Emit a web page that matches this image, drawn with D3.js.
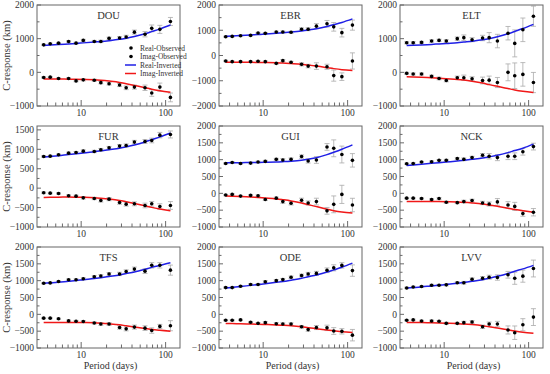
<!DOCTYPE html>
<html>
<head>
<meta charset="utf-8">
<script src="https://cdn.jsdelivr.net/npm/d3@7"></script>
<style>
  body { margin: 0; background: #fff; }
  text { font-family: "Liberation Serif", "DejaVu Serif", serif; fill: #333; }
</style>
</head>
<body>
<svg id="chart" width="550" height="374"></svg>
<script>
// periods (days), shared by every station
const periods = [3.6, 4.3, 5.4, 7.1, 8.7, 10.6, 14.3, 17.1, 21.4, 28.5, 34.1, 42.7, 57, 68.5, 85.5, 114];

const stations = ['DOU', 'EBR', 'ELT', 'FUR', 'GUI', 'NCK', 'TFS', 'ODE', 'LVV'];

const yDomains = {
    DOU: [-1000, 2000], EBR: [-2000, 2000], ELT: [-1000, 2000],
    FUR: [-1000, 1600], GUI: [-1000, 2000], NCK: [-1000, 2000],
    TFS: [-1000, 2000], ODE: [-1000, 2000], LVV: [-1000, 2000]
};
const yTicks = {
    DOU: [-1000, 0, 1000, 2000], EBR: [-2000, -1000, 0, 1000, 2000], ELT: [-1000, 0, 1000, 2000],
    FUR: [-1000, -500, 0, 500, 1000, 1500], GUI: [-1000, -500, 0, 500, 1000, 1500, 2000],
    NCK: [-1000, -500, 0, 500, 1000, 1500, 2000], TFS: [-1000, -500, 0, 500, 1000, 1500, 2000],
    ODE: [-1000, -500, 0, 500, 1000, 1500, 2000], LVV: [-1000, -500, 0, 500, 1000, 1500, 2000]
};

// observed real / imag parts (km)
const realObs = {
    DOU: [816, 847, 867, 918, 867, 949, 918, 918, 1010, 1020, 1051, 1194, 1133, 1306, 1276, 1510],
    EBR: [743, 757, 784, 797, 892, 878, 932, 932, 919, 1041, 1041, 1162, 1257, 1135, 905, 1203],
    ELT: [879, 879, 889, 929, 949, 929, 1000, 1030, 970, 1020, 1030, 929, 1162, 859, 1263, 1667],
    FUR: [815, 824, 858, 901, 918, 953, 944, 987, 1039, 1082, 1099, 1185, 1202, 1227, 1365, 1382],
    GUI: [888, 918, 888, 898, 929, 949, 1010, 990, 1010, 1092, 959, 990, 1378, 1337, 1153, 980],
    NCK: [878, 888, 929, 939, 980, 980, 1031, 1010, 1061, 1133, 1102, 1061, 1102, 1102, 1235, 1388],
    TFS: [923, 933, 974, 1026, 1026, 1056, 1118, 1138, 1200, 1200, 1272, 1344, 1282, 1456, 1456, 1313],
    ODE: [794, 794, 835, 887, 887, 969, 1000, 1031, 1103, 1155, 1196, 1216, 1309, 1381, 1454, 1299],
    LVV: [784, 814, 825, 866, 866, 876, 938, 938, 1041, 1072, 1103, 1093, 1175, 1072, 1134, 1361]
};
const imagObs = {
    DOU: [-153, -143, -184, -184, -255, -224, -235, -306, -337, -378, -459, -439, -459, -612, -439, -745],
    EBR: [-216, -243, -243, -243, -230, -243, -311, -203, -270, -351, -419, -419, -446, -797, -838, -216],
    ELT: [-30, -50, -50, -121, -182, -242, -162, -162, -192, -242, -232, -303, 0, -101, -61, -303],
    FUR: [-120, -129, -137, -197, -206, -249, -266, -318, -283, -369, -412, -403, -446, -403, -472, -446],
    GUI: [-51, -31, -82, -61, -71, -184, -143, -245, -296, -204, -286, -245, -520, -327, -31, -347],
    NCK: [-143, -143, -153, -184, -153, -265, -276, -245, -214, -286, -316, -255, -347, -388, -602, -561],
    TFS: [-113, -113, -133, -195, -205, -215, -256, -287, -287, -390, -431, -379, -410, -482, -359, -338],
    ODE: [-175, -175, -165, -237, -268, -247, -278, -289, -289, -371, -454, -392, -402, -495, -505, -619],
    LVV: [-175, -165, -196, -196, -206, -268, -268, -247, -227, -371, -289, -289, -464, -546, -309, -82]
};

// error bar half-widths
const realErr = {
    DOU: [20, 20, 20, 25, 25, 30, 30, 35, 35, 40, 50, 60, 80, 100, 120, 120],
    EBR: [20, 20, 20, 25, 25, 30, 30, 35, 40, 50, 60, 100, 130, 170, 170, 200],
    ELT: [30, 30, 30, 35, 35, 40, 50, 80, 60, 80, 150, 200, 200, 400, 350, 300],
    FUR: [20, 20, 20, 25, 25, 30, 30, 35, 35, 40, 40, 45, 50, 60, 70, 90],
    GUI: [20, 20, 20, 25, 25, 30, 30, 40, 40, 50, 60, 100, 100, 250, 250, 200],
    NCK: [20, 20, 20, 25, 25, 30, 30, 40, 40, 50, 80, 90, 100, 100, 100, 100],
    TFS: [20, 20, 20, 25, 25, 30, 30, 40, 40, 50, 50, 60, 70, 80, 80, 150],
    ODE: [20, 20, 20, 25, 25, 30, 30, 35, 35, 40, 50, 60, 70, 90, 80, 170],
    LVV: [20, 20, 20, 25, 25, 30, 30, 40, 40, 50, 60, 80, 100, 180, 180, 250]
};
const imagErr = {
    DOU: [20, 20, 20, 25, 25, 30, 30, 35, 40, 45, 55, 60, 80, 100, 120, 130],
    EBR: [25, 25, 25, 25, 30, 30, 35, 40, 40, 60, 70, 130, 100, 220, 150, 320],
    ELT: [30, 30, 30, 35, 40, 40, 50, 80, 60, 100, 120, 150, 250, 380, 350, 300],
    FUR: [20, 20, 20, 25, 25, 30, 30, 40, 40, 45, 50, 50, 60, 60, 70, 100],
    GUI: [20, 20, 20, 25, 25, 30, 30, 50, 50, 60, 60, 100, 100, 250, 270, 200],
    NCK: [20, 20, 20, 25, 25, 30, 30, 40, 40, 50, 60, 100, 100, 120, 80, 110],
    TFS: [20, 20, 20, 25, 25, 30, 30, 40, 40, 50, 60, 60, 70, 80, 60, 150],
    ODE: [20, 20, 20, 25, 25, 30, 30, 35, 35, 40, 50, 60, 80, 100, 80, 170],
    LVV: [20, 20, 20, 25, 25, 30, 30, 40, 40, 50, 60, 80, 120, 200, 180, 250]
};

// inverted model responses
const realInv = {
    DOU: [800, 810, 825, 845, 860, 875, 900, 915, 940, 980, 1015, 1065, 1145, 1210, 1290, 1405],
    EBR: [760, 775, 790, 815, 830, 850, 880, 900, 930, 975, 1010, 1060, 1150, 1220, 1310, 1450],
    ELT: [800, 805, 815, 830, 845, 860, 880, 900, 925, 965, 1000, 1055, 1145, 1215, 1300, 1425],
    FUR: [800, 815, 835, 865, 885, 905, 940, 960, 990, 1030, 1065, 1110, 1190, 1250, 1320, 1420],
    GUI: [910, 910, 912, 915, 918, 922, 930, 940, 955, 985, 1015, 1060, 1150, 1220, 1310, 1440],
    NCK: [830, 845, 865, 890, 910, 930, 960, 980, 1010, 1050, 1085, 1130, 1210, 1270, 1340, 1460],
    TFS: [920, 935, 955, 985, 1005, 1030, 1065, 1090, 1125, 1170, 1210, 1260, 1340, 1395, 1450, 1530],
    ODE: [780, 800, 825, 860, 885, 910, 950, 975, 1015, 1070, 1115, 1170, 1255, 1320, 1400, 1520],
    LVV: [780, 795, 815, 845, 865, 885, 920, 945, 980, 1030, 1075, 1130, 1215, 1280, 1350, 1455]
};
const imagInv = {
    DOU: [-200, -200, -200, -202, -205, -210, -220, -235, -260, -300, -340, -390, -455, -500, -545, -595],
    EBR: [-270, -270, -270, -272, -275, -280, -290, -300, -320, -350, -380, -420, -480, -520, -560, -590],
    ELT: [-130, -135, -145, -160, -175, -190, -210, -230, -265, -320, -365, -415, -480, -525, -565, -600],
    FUR: [-240, -235, -232, -230, -232, -235, -245, -258, -278, -315, -350, -395, -455, -495, -535, -580],
    GUI: [-80, -85, -95, -110, -125, -140, -165, -190, -225, -285, -335, -395, -470, -515, -555, -585],
    NCK: [-240, -240, -240, -242, -245, -250, -258, -268, -285, -315, -345, -385, -440, -480, -515, -560],
    TFS: [-240, -240, -240, -240, -242, -245, -252, -262, -280, -310, -340, -375, -420, -450, -475, -500],
    ODE: [-270, -275, -280, -288, -295, -302, -315, -325, -340, -370, -395, -425, -465, -490, -515, -540],
    LVV: [-240, -242, -245, -250, -255, -262, -275, -285, -305, -340, -370, -405, -460, -495, -530, -560]
};

const legendItems = ['Real-Observed', 'Imag-Observed', 'Real-Inverted', 'Imag-Inverted'];

const svg = d3.select('#chart');
const colX = [37, 219, 400];
const rowY = [5, 126, 247];
const pw = 143, ph = 101;

const x = d3.scaleLog().domain([3, 148]).range([0, pw]);
const xMinor = [4, 5, 6, 7, 8, 9, 20, 30, 40, 50, 60, 70, 80, 90];

stations.forEach(function(st, i) {
    let col = i % 3, row = Math.floor(i / 3);
    let g = svg.append('g').attr('transform', 'translate(' + colX[col] + ',' + rowY[row] + ')');
    let y = d3.scaleLinear().domain(yDomains[st]).range([ph, 0]);

    // y ticks (inside)
    let major = yTicks[st];
    let step = major[1] - major[0];
    let minor = [];
    for (let k = 0; k < major.length - 1; k++) minor.push(major[k] + step / 2);
    if (major[major.length - 1] + step / 2 <= yDomains[st][1]) minor.push(major[major.length - 1] + step / 2);

    g.selectAll('.ytick').data(major).enter().append('line')
        .attr('x1', 0).attr('x2', 4).attr('y1', d => y(d)).attr('y2', d => y(d))
        .attr('stroke', '#444').attr('stroke-width', 0.8);
    g.selectAll('.yminor').data(minor).enter().append('line')
        .attr('x1', 0).attr('x2', 2.5).attr('y1', d => y(d)).attr('y2', d => y(d))
        .attr('stroke', '#444').attr('stroke-width', 0.8);
    g.selectAll('.ylab').data(major).enter().append('text')
        .attr('x', -3).attr('y', d => y(d)).attr('dy', '0.35em')
        .attr('text-anchor', 'end').attr('font-size', 9.5)
        .text(d => d < 0 ? '\u2212' + Math.abs(d) : d);

    // x ticks (inside)
    g.selectAll('.xtick').data([10, 100]).enter().append('line')
        .attr('x1', d => x(d)).attr('x2', d => x(d)).attr('y1', ph).attr('y2', ph - 6)
        .attr('stroke', '#444').attr('stroke-width', 0.8);
    g.selectAll('.xminor').data(xMinor).enter().append('line')
        .attr('x1', d => x(d)).attr('x2', d => x(d)).attr('y1', ph).attr('y2', ph - 3.5)
        .attr('stroke', '#444').attr('stroke-width', 0.8);
    g.selectAll('.xlab').data([10, 100]).enter().append('text')
        .attr('x', d => x(d)).attr('y', ph + 10).attr('text-anchor', 'middle')
        .attr('font-size', 9.5).text(d => d);

    // error bars
    let eb = g.append('g').attr('stroke', '#aaa').attr('stroke-width', 0.8);
    [[realObs[st], realErr[st]], [imagObs[st], imagErr[st]]].forEach(function(pair) {
        periods.forEach(function(p, j) {
            let cx = x(p), v = pair[0][j], e = pair[1][j];
            eb.append('line').attr('x1', cx).attr('x2', cx).attr('y1', y(v - e)).attr('y2', y(v + e));
            eb.append('line').attr('x1', cx - 2.5).attr('x2', cx + 2.5).attr('y1', y(v - e)).attr('y2', y(v - e));
            eb.append('line').attr('x1', cx - 2.5).attr('x2', cx + 2.5).attr('y1', y(v + e)).attr('y2', y(v + e));
        });
    });

    // inverted curves
    let line = d3.line().x((d, j) => x(periods[j])).y(d => y(d)).curve(d3.curveMonotoneX);
    g.append('path').attr('d', line(realInv[st])).attr('fill', 'none')
        .attr('stroke', '#1f1fe6').attr('stroke-width', 1.5);
    g.append('path').attr('d', line(imagInv[st])).attr('fill', 'none')
        .attr('stroke', '#f01818').attr('stroke-width', 1.5);

    // observed points
    [realObs[st], imagObs[st]].forEach(function(vals) {
        g.selectAll(null).data(vals).enter().append('circle')
            .attr('cx', (d, j) => x(periods[j])).attr('cy', d => y(d))
            .attr('r', 1.8).attr('fill', '#000');
    });

    // frame
    g.append('rect').attr('width', pw).attr('height', ph)
        .attr('fill', 'none').attr('stroke', '#666').attr('stroke-width', 1);

    g.append('text').attr('x', pw / 2).attr('y', 14).attr('text-anchor', 'middle')
        .attr('font-size', 10.5).text(st);

    if (col === 0) {
        g.append('text').attr('transform', 'translate(' + (-27) + ',' + (ph / 2) + ') rotate(-90)')
            .attr('text-anchor', 'middle').attr('font-size', 10.5).text('C-response (km)');
    }
    if (row === 2) {
        g.append('text').attr('x', pw / 2 + 2).attr('y', ph + 21).attr('text-anchor', 'middle')
            .attr('font-size', 10).text('Period (days)');
    }

    if (st === 'DOU') {
        let lg = g.append('g').attr('transform', 'translate(88,43)');
        legendItems.forEach(function(name, k) {
            let row = lg.append('g').attr('transform', 'translate(0,' + (k * 8.5) + ')');
            if (k < 2) {
                row.append('circle').attr('cx', 6).attr('cy', 0).attr('r', 1.8).attr('fill', '#000');
            } else {
                row.append('line').attr('x1', 0).attr('x2', 11).attr('y1', 0).attr('y2', 0)
                    .attr('stroke', k === 2 ? '#1f1fe6' : '#f01818').attr('stroke-width', 1.5);
            }
            row.append('text').attr('x', 15).attr('y', 0).attr('dy', '0.35em')
                .attr('font-size', 7.5).text(name);
        });
    }
});
</script>
</body>
</html>
